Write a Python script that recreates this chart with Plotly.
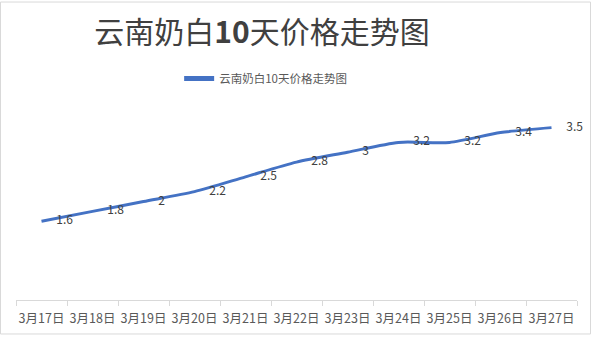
import plotly.graph_objects as go

# 云南奶白 daily prices over ten days
dates = ["3月17日", "3月18日", "3月19日", "3月20日", "3月21日", "3月22日",
         "3月23日", "3月24日", "3月25日", "3月26日", "3月27日"]
prices = [1.6, 1.8, 2, 2.2, 2.5, 2.8, 3, 3.2, 3.2, 3.4, 3.5]
series_name = "云南奶白10天价格走势图"
title_text = "云南奶白<b>10</b>天价格走势图"

W, H = 592, 339
ML, MR, MT, MB = 16, 15, 103, 36
pw = W - ML - MR
ph = H - MT - MB

font_family = "Noto Sans CJK SC, Noto Sans, sans-serif"

fig = go.Figure()
fig.add_trace(go.Scatter(
    x=dates,
    y=prices,
    mode="lines+markers+text",
    name=series_name,
    line=dict(color="#4472C4", width=3, shape="spline", smoothing=0.7),
    # invisible markers only serve to push the value labels off the line
    marker=dict(size=22, color="rgba(0,0,0,0)", line=dict(width=0)),
    text=[f"{v:g}" for v in prices],
    textposition="middle right",
    textfont=dict(family=font_family, size=12, color="#404040"),
    cliponaxis=False,
    showlegend=True,
))

fig.update_layout(
    width=W,
    height=H,
    margin=dict(l=ML, r=MR, t=MT, b=MB),
    paper_bgcolor="white",
    plot_bgcolor="white",
    title=dict(
        text=title_text,
        xref="container",
        x=262 / W,
        xanchor="center",
        y=1 - 32 / H,
        yanchor="middle",
        font=dict(family=font_family, size=30, color="#404040"),
    ),
    legend=dict(
        orientation="h",
        x=0.445,
        xanchor="center",
        y=1 + (MT - 78) / ph,
        yanchor="middle",
        font=dict(family=font_family, size=11.5, color="#595959"),
        bgcolor="rgba(0,0,0,0)",
        itemsizing="constant",
    ),
    xaxis=dict(
        type="category",
        range=[-0.5, len(dates) - 0.5],
        showgrid=False,
        showline=True,
        linecolor="#d9d9d9",
        linewidth=1,
        ticks="outside",
        tickson="boundaries",
        ticklen=5,
        tickcolor="#d9d9d9",
        tickangle=0,
        ticklabelstandoff=7,
        tickfont=dict(family=font_family, size=12.5, color="#595959"),
        zeroline=False,
    ),
    yaxis=dict(
        range=[0, 4],
        visible=False,
        showgrid=False,
        zeroline=False,
    ),
    shapes=[dict(
        type="rect",
        xref="paper", yref="paper",
        x0=-(ML - 0.5) / pw, x1=1 + (MR - 1.5) / pw,
        y0=-(MB - 1.5) / ph, y1=1 + (MT - 0.5) / ph,
        line=dict(color="#d9d9d9", width=1),
        fillcolor="rgba(0,0,0,0)",
        layer="below",
    )],
)

fig.write_html("out.html")
